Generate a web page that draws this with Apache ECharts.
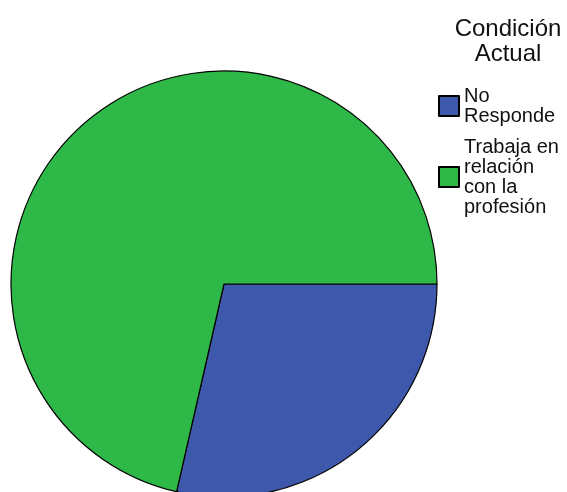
<!DOCTYPE html>
<html>
<head>
<meta charset="utf-8">
<script src="https://cdn.jsdelivr.net/npm/echarts@6/dist/echarts.min.js"></script>
<style>html,body{margin:0;padding:0;background:#fff;}#c{width:567px;height:492px;}</style>
</head>
<body>
<div id="c"></div>
<script>
const categories = ['No Responde', 'Trabaja en relación con la profesión'];
const legendLabels = ['No\nResponde', 'Trabaja en\nrelación\ncon la\nprofesión'];
const values = [2, 5];
const colors = ['#3E58AC', '#2EB848'];
const titleText = 'Condición\nActual';

const chart = echarts.init(document.getElementById('c'), null, {renderer: 'canvas'});
const labelMap = {};
categories.forEach((c, i) => labelMap[c] = legendLabels[i]);
chart.setOption({
  animation: false,
  backgroundColor: '#fff',
  title: {
    text: titleText,
    left: 508, top: 17,
    padding: 0,
    textAlign: 'center',
    textStyle: {fontFamily: 'Liberation Sans, Arial, sans-serif', fontSize: 24, fontWeight: 'normal', color: '#111', lineHeight: 25, align: 'center'}
  },
  legend: {
    orient: 'vertical',
    left: 438, top: 86,
    padding: 0,
    itemWidth: 20, itemHeight: 20,
    itemGap: 11,
    icon: 'rect',
    selectedMode: false,
    formatter: name => labelMap[name],
    textStyle: {fontFamily: 'Liberation Sans, Arial, sans-serif', fontSize: 20, color: '#111', lineHeight: 20},
    data: categories
  },
  series: [{
    type: 'pie',
    center: [224, 284],
    radius: 213,
    startAngle: 0,
    clockwise: true,
    silent: true,
    label: {show: false},
    labelLine: {show: false},
    itemStyle: {borderColor: '#000', borderWidth: 1.2},
    data: categories.map((c, i) => ({name: c, value: values[i], itemStyle: {color: colors[i]}}))
  }]
});
</script>
</body>
</html>
